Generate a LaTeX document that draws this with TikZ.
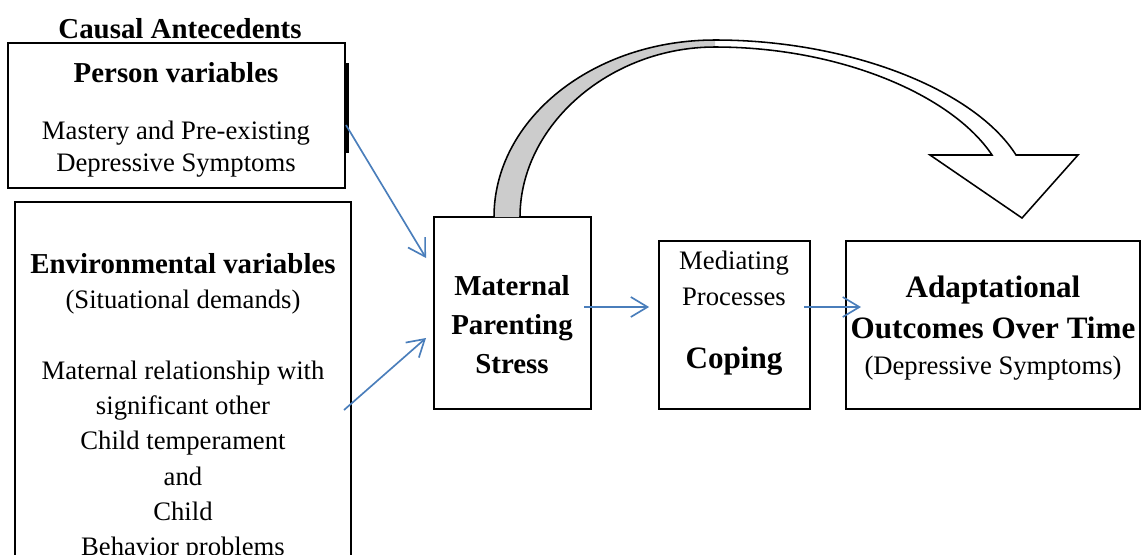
\documentclass[tikz,border=0pt]{standalone}
\usepackage{fontspec}
\setmainfont{Liberation Serif}
\usetikzlibrary{arrows.meta,fit}
\definecolor{arrowblue}{RGB}{74,126,187}

\begin{document}
\begin{tikzpicture}[x=0.45pt, y=-0.45pt,
    box/.style={draw, line width=0.9pt, inner sep=0pt},
    flow/.style={arrowblue, line width=0.75pt, -{Straight Barb[length=7.5pt,width=9pt]}},
    head/.style={font=\fontsize{13}{15.6}\selectfont\bfseries, inner sep=0pt, align=center},
    txt/.style={font=\fontsize{12}{14.4}\selectfont, inner sep=0pt, align=center}]
    \useasboundingbox (0,0) rectangle (1144,554);
    \clip (0,0) rectangle (1144,554);
    % Boxes
    \node[box, fit={(8,43) (345,188)}] (person) {};
    \fill (345,63) rectangle (349,153);
    \node[box, fit={(15,202) (351,606)}] (env) {};
    \node[box, fit={(434,217) (591,409)}] (stress) {};
    \node[box, fit={(659,241) (810,409)}] (mediate) {};
    \node[box, fit={(846,241) (1140,409)}] (outcome) {};
    % Labels
    \node[head] (antecedents) at (180,29) {Causal Antecedents};
    \node[head] (person-title) at (176,73) {Person variables};
    \node[txt] (person-text) at (176,149) {Mastery and Pre-existing\\Depressive Symptoms};
    \node[head] (env-title) at (183,264) {Environmental variables};
    \node[txt] (env-demands) at (183,302) {(Situational demands)};
    \node[txt, font=\fontsize{12}{15.84}\selectfont] (env-text) at (183,461)
        {Maternal relationship with\\significant other\\Child temperament\\and\\Child\\Behavior problems};
    \node[head, font=\fontsize{13}{17.55}\selectfont\bfseries] (stress-text) at (512,325) {Maternal\\Parenting\\Stress};
    \node[txt, font=\fontsize{12}{16.2}\selectfont] (mediate-text) at (734,278) {Mediating\\Processes};
    \node[head, font=\fontsize{14}{17}\selectfont\bfseries] (coping) at (734,361) {Coping};
    \node[head, font=\fontsize{14}{18.45}\selectfont\bfseries] (outcome-title) at (993,307) {Adaptational\\Outcomes Over Time};
    \node[txt] (outcome-text) at (993,368) {(Depressive Symptoms)};
    % Curved arrow
    \fill[gray!40] (494,217) .. controls (494,119) and (593,40) .. (715,40)
        -- (715,47) .. controls (610,47) and (520,125) .. (520,217) -- cycle;
    \draw[line width=0.7pt] (494,217) .. controls (494,119) and (593,40) .. (715,40)
        .. controls (850,40) and (975,90) .. (1016,155) -- (1078,155) -- (1022,218) -- (930,155) -- (992,155)
        .. controls (952,95) and (840,47) .. (715,47) .. controls (610,47) and (520,125) .. (520,217);
    % Arrows
    \draw[flow] ([yshift=-4.3pt]person.east) -- ([xshift=-3.15pt,yshift=24.75pt]stress.west);
    \draw[flow] ([xshift=-3.6pt,yshift=-2.7pt]env.east) -- ([xshift=-3.15pt,yshift=-11.25pt]stress.west);
    \draw[flow] ([xshift=-3.6pt,yshift=2.7pt]stress.east) -- ([xshift=-4pt,yshift=8.1pt]mediate.west);
    \draw[flow] ([xshift=-3.15pt,yshift=8.1pt]mediate.east) -- ([xshift=7.2pt,yshift=8.1pt]outcome.west);
\end{tikzpicture}
\end{document}
